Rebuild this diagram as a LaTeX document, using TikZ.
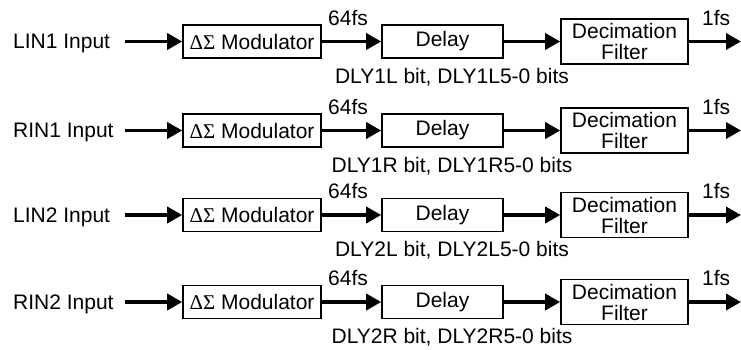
\documentclass[tikz,border=0pt]{standalone}
\usepackage{fontspec}
\setmainfont{Liberation Sans}
\newfontfamily\greekfont{Liberation Serif}
\usetikzlibrary{arrows.meta}
\begin{document}
\begin{tikzpicture}[x=1pt,y=-1pt,
  every node/.style={font=\fontsize{21}{21}\selectfont, inner sep=0pt},
  blk/.style={draw, line width=1.6pt, minimum height=33pt},
  arr/.style={line width=3.5pt, -{Triangle[length=15pt,width=16pt]}},
  txt/.style={anchor=base west},
]
\useasboundingbox (0,0) rectangle (741,349);
\foreach \r/\y/\lab/\dl in {1/41.5/LIN1/1L, 2/130.5/RIN1/1R, 3/215/LIN2/2L, 4/302/RIN2/2R} {
  \node[txt] (in\r) at (13,\y+7) {\lab\ Input};
  \coordinate (s\r) at (125,\y);
  \node[blk, minimum width=138pt] (mod\r) at (252,\y) {{\greekfont ΔΣ} Modulator};
  \node[blk, minimum width=121pt] (del\r) at (442.5,\y) {Delay};
  \node[blk, minimum width=127pt, minimum height=45pt, align=center] (dec\r) at (624.5,\y) {Decimation\\Filter};
  \coordinate (o\r) at (741,\y);
  \draw[arr] (s\r) -- (mod\r.west);
  \draw[arr] (mod\r.east) -- (del\r.west);
  \draw[arr] (del\r.east) -- (dec\r.west);
  \draw[arr] (dec\r.east) -- (o\r);
  \node[txt] (f\r) at (328,\y-16.5) {64fs};
  \node[txt] (g\r) at (702,\y-16.5) {1fs};
  \node[anchor=base] (d\r) at (452,\y+41.5) {DLY\dl{} bit, DLY\dl5-0 bits};
}
\end{tikzpicture}
\end{document}
